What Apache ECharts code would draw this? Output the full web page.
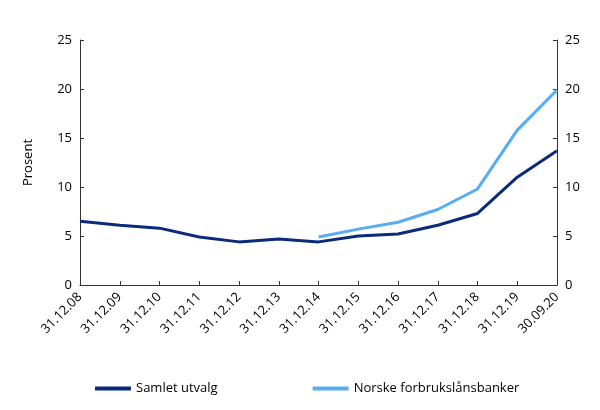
<!DOCTYPE html>
<html>
<head>
<meta charset="utf-8">
<script src="https://cdn.jsdelivr.net/npm/echarts@6/dist/echarts.min.js"></script>
<style>html,body{margin:0;padding:0;background:#fff}#chart{width:600px;height:410px}</style>
</head>
<body>
<div id="chart"></div>
<script>
// data
var categories = ['31.12.08','31.12.09','31.12.10','31.12.11','31.12.12','31.12.13','31.12.14','31.12.15','31.12.16','31.12.17','31.12.18','31.12.19','30.09.20'];
var samletUtvalg = [6.5, 6.1, 5.8, 4.9, 4.4, 4.7, 4.4, 5.0, 5.2, 6.1, 7.3, 11.0, 13.7];
var forbruksBanker = [null, null, null, null, null, null, 4.9, 5.7, 6.4, 7.7, 9.8, 15.8, 19.9];

var chart = echarts.init(document.getElementById('chart'));
var axisStyle = {
    min: 0, max: 25, interval: 5,
    axisLine: { show: true, lineStyle: { color: '#333', width: 1 } },
    axisTick: { show: true, inside: true, length: 4, lineStyle: { color: '#333' } },
    axisLabel: { color: '#000', fontSize: 13, fontFamily: 'Open Sans' },
    splitLine: { show: false }
};
chart.setOption({
    animation: false,
    grid: { left: 80, right: 43, top: 40, bottom: 125 },
    legend: {
        bottom: 10, left: 90, itemGap: 95, itemWidth: 36, itemHeight: 4,
        icon: 'rect',
        textStyle: { fontSize: 13, color: '#000', fontFamily: 'Open Sans' },
        data: ['Samlet utvalg', 'Norske forbrukslånsbanker']
    },
    xAxis: {
        type: 'category', data: categories, boundaryGap: false,
        axisLine: { lineStyle: { color: '#333' } },
        axisTick: { show: true, inside: true, length: 4, lineStyle: { color: '#333' } },
        axisLabel: { rotate: 45, color: '#000', fontSize: 13, fontFamily: 'Open Sans', interval: 0, margin: 10 }
    },
    yAxis: [
        Object.assign({ type: 'value', position: 'left', name: 'Prosent', nameLocation: 'middle', nameGap: 45,
            nameTextStyle: { fontSize: 13, color: '#000', fontFamily: 'Open Sans' } }, axisStyle),
        Object.assign({ type: 'value', position: 'right' }, axisStyle)
    ],
    series: [
        { name: 'Samlet utvalg', type: 'line', data: samletUtvalg, showSymbol: false,
          lineStyle: { color: '#0a2a7a', width: 3 }, itemStyle: { color: '#0a2a7a' } },
        { name: 'Norske forbrukslånsbanker', type: 'line', data: forbruksBanker, showSymbol: false,
          lineStyle: { color: '#56adf4', width: 3 }, itemStyle: { color: '#56adf4' } }
    ]
});
</script>
</body>
</html>
